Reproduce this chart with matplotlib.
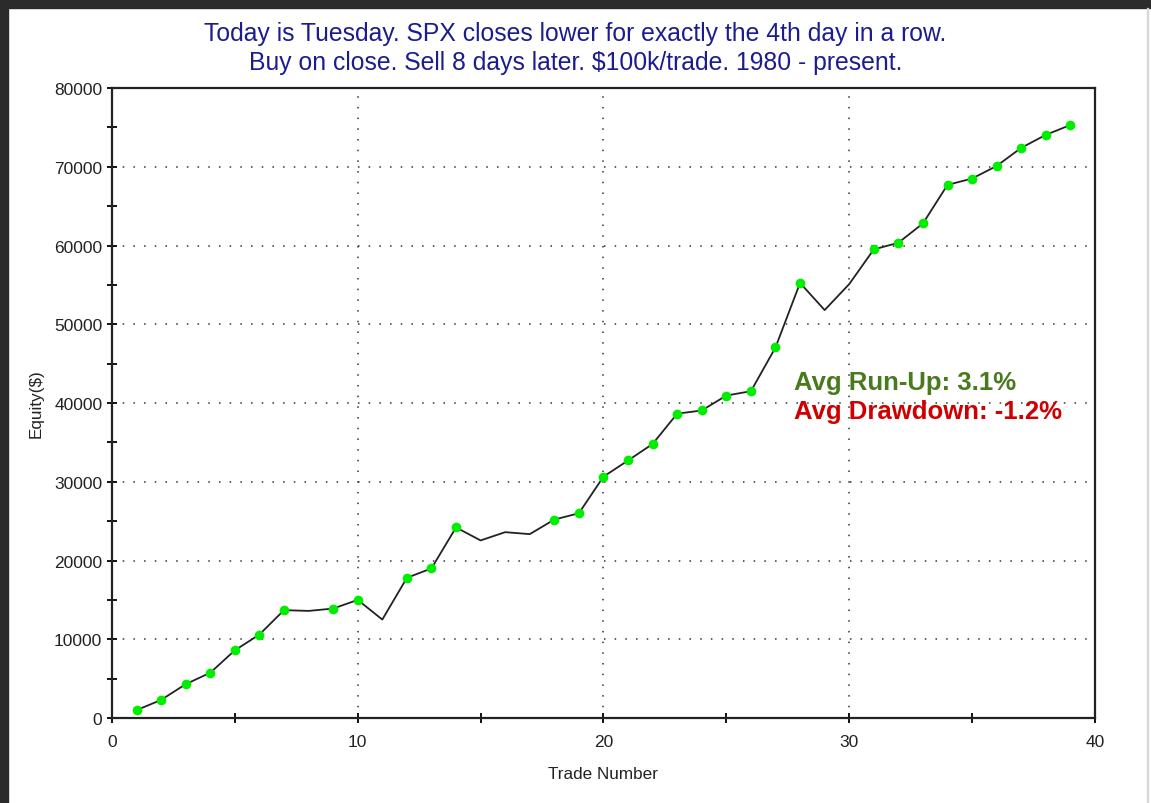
import matplotlib
matplotlib.use('Agg')
import matplotlib.pyplot as plt
import numpy as np
from matplotlib.patches import Rectangle
from matplotlib.ticker import MultipleLocator

plt.rcParams['font.family'] = ['Liberation Sans', 'DejaVu Sans']

# trade number vs cumulative equity ($)
trade = np.arange(1, 40)
equity = [1000, 2300, 4300, 5750, 8600, 10600, 13700, 13600, 13900, 15000,
          12500, 17800, 19000, 24200, 22550, 23600, 23350, 25200, 26000, 30650,
          32700, 34800, 38650, 39050, 40950, 41500, 47050, 55250, 51800, 55100,
          59500, 60350, 62800, 67700, 68500, 70100, 72400, 74050, 75300]
equity = np.array(equity)
new_high = equity >= np.maximum.accumulate(equity)  # green dots on new equity highs

title1 = 'Today is Tuesday. SPX closes lower for exactly the 4th day in a row.'
title2 = 'Buy on close. Sell 8 days later. $100k/trade. 1980 - present.'
runup_txt = 'Avg Run-Up: 3.1%'
dd_txt = 'Avg Drawdown: -1.2%'

fig = plt.figure(figsize=(11.51, 8.04), dpi=100)
ax = fig.add_axes([0.0973, 0.1057, 0.854, 0.7836])

# dark window frame top / left, thin grey right edge
fig.patches.append(Rectangle((0, 1 - 9/804), 1, 9/804, transform=fig.transFigure,
                             color='#2b2b2b', zorder=10))
fig.patches.append(Rectangle((0, 0), 8/1151, 1, transform=fig.transFigure,
                             color='#2b2b2b', zorder=10))
fig.patches.append(Rectangle((1147/1151, 0), 1/1151, 1 - 9/804, transform=fig.transFigure,
                             color='#d8d8d8', zorder=10))

ax.plot(trade, equity, '-', color='#222222', lw=1.3, zorder=3)
ax.plot(trade[new_high], equity[new_high], 'o', color='#00ee00', ms=7, mec='none', zorder=4)

ax.set_xlim(0, 40)
ax.set_ylim(0, 80000)
ax.xaxis.set_major_locator(MultipleLocator(10))
ax.xaxis.set_minor_locator(MultipleLocator(5))
ax.yaxis.set_major_locator(MultipleLocator(10000))
ax.yaxis.set_minor_locator(MultipleLocator(5000))
ax.tick_params(which='both', direction='inout', length=7, width=1.3, color='black',
               labelsize=12.5, labelcolor='#222222')
ax.tick_params(axis='x', pad=8)
ax.grid(True, which='major', color='#333333', linestyle=(0, (1, 6)), lw=1.1, zorder=1)
for s in ax.spines.values():
    s.set_linewidth(1.6)
    s.set_color('#222222')

ax.set_xlabel('Trade Number', fontsize=12.3, color='#222222', labelpad=12)
ax.set_ylabel('Equity($)', fontsize=12.3, color='#222222')
ax.yaxis.set_label_coords(-0.07, 0.5)

fig.text(0.5, 1 - 34/804, title1, ha='center', va='center', fontsize=17.8, color='#1c1c8e')
fig.text(0.5, 1 - 63/804, title2, ha='center', va='center', fontsize=17.8, color='#1c1c8e')

ax.text(27.75, 42650, runup_txt, fontsize=18.5, fontweight='bold', color='#4a7a1e',
        va='center', ha='left', zorder=5)
ax.text(27.75, 38950, dd_txt, fontsize=18.5, fontweight='bold', color='#d00000',
        va='center', ha='left', zorder=5)

fig.savefig('out.png', dpi=100, facecolor='white')
